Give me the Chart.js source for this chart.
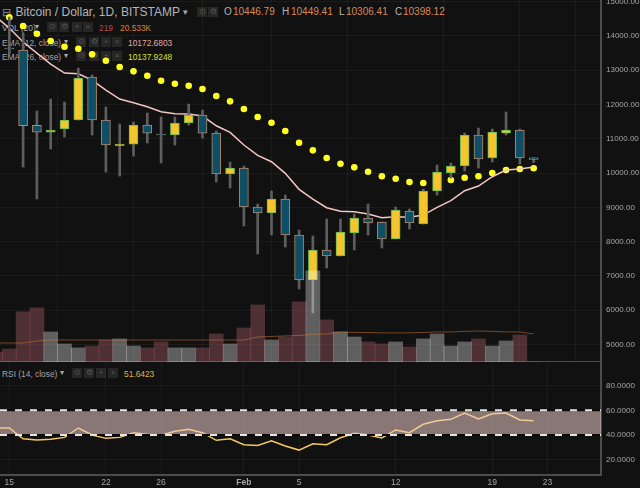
<!DOCTYPE html>
<html>
<head>
<meta charset="utf-8">
<script src="https://cdn.jsdelivr.net/npm/chart.js@4/dist/chart.umd.min.js"></script>
<style>
  html, body { margin: 0; padding: 0; background: #111; overflow: hidden; }
  #wrap { position: relative; width: 640px; height: 488px; font-family: "Liberation Sans", sans-serif; }
  canvas { position: absolute; left: 0; z-index: 2; }
  #priceChart { top: 0; }
  #rsiChart { top: 362px; }
  .t { position: absolute; z-index: 1; white-space: nowrap; font-size: 8.4px; line-height: 12px; color: #a4a4a4; }
  .b { position: absolute; z-index: 1; width: 10px; height: 10px; background: #262626; color: #565656; font-size: 8px; line-height: 10px; text-align: center; }
</style>
</head>
<body>
<div id="wrap">
  <canvas id="priceChart" width="640" height="362"></canvas>
  <canvas id="rsiChart" width="640" height="126"></canvas>
</div>
<script>
// days are counted from Jan 15, -1 is the sliver cut off at the left edge
var days = [-1,0,1,2,3,4,5,6,7,8,9,10,11,12,13,14,15,16,17,18,19,20,21,22,23,24,25,26,27,28,29,30,31,32,33,34,35,36,37,38];
var tickDays = [0,7,11,17,21,28,35,39];
var tickLabels = ['15','22','26','Feb','5','12','19','23'];
var priceTicks = [5000,6000,7000,8000,9000,10000,11000,12000,13000,14000,15000];
var rsiTicks = [20,40,60,80];
var rsiLevels = [60,40];

var opens  = [null,13648,13589,11392,11196,11284,11547,12801,11547,10802,10846,11401,11138,11109,11459,11692,11167,9971,10146,9008,8833,9241,8191,6878,7753,7578,8249,8687,8570,8074,8891,8512,9475,10000,10204,11109,10438,11167,11255,10446.79];
var highs  = [null,14552,14085,11809,12159,12072,13064,12860,11926,11430,11488,11751,11634,11634,12013,11838,11226,10321,10204,9095,9475,9358,8337,8162,8658,8658,8804,9095,8570,9008,8950,9533,10233,10292,11167,11313,11284,11780,11284,10449.41];
var lows   = [null,13472,10175,9241,10700,11050,11547,11109,10029,9912,10496,10875,10292,10817,11401,11021,9737,9562,8453,7636,8191,7841,6615,5915,7228,7578,7753,8191,7811,8074,8366,8512,9358,9854,10058,10146,10321,11109,10263,10306.41];
var closes = [null,13620,11380,11196,11255,11547,12772,11547,10817,10846,11401,11167,11109,11459,11692,11167,9971,10146,9008,8833,9241,8191,6878,7753,7578,8278,8687,8541,8074,8920,8541,9475,10029,10204,11109,10409,11196,11255,10438,10398.12];

var ema12 = [14570,14231,13823,13502,13181,12918,12898,12714,12422,12159,12051,11935,11789,11730,11722,11663,11380,11188,10817,10516,10330,9991,9524,9241,8987,8882,8871,8804,8696,8725,8707,8774,8999,9192,9484,9621,9892,10088,10117,10172.68];
var ema26 = [null,14543,14290,14065,13852,13685,13627,13464,13277,13093,12968,12839,12693,12606,12547,12451,12247,12092,11868,11634,11468,11226,10884,10662,10438,10271,10166,10038,9904,9834,9737,9708,9796,9796,9863,9904,10000,10088,10117,10137.92];

// volume in thousands
var volumes = [7.3,9.5,36.7,39.6,22,13.2,10.3,11.7,16.1,16.9,11.7,10.3,14.7,10.3,10.3,10.3,20.5,13.2,24.9,41.8,16.1,18.3,44,66.7,30.8,22,18.3,14.7,13.2,14.7,11,16.9,20.5,11.7,14.7,16.9,11.7,15.4,19.8,0.219];
var volumeUp = [0,0,0,0,1,1,1,0,0,1,1,0,0,1,1,0,0,1,0,0,1,0,0,1,0,1,1,0,0,1,0,1,1,1,1,0,1,1,0,0];
var volumeMa = [13.9,13.9,13.9,15.4,16.1,16.1,16.1,16.1,16.1,16.1,16.1,16.1,16.1,16.1,16.1,16.1,16.1,16.1,16.1,18.3,18.7,19.1,19.4,20.2,20.5,22,21.6,21.6,21.3,21.3,21.3,21.6,22,22,22.4,22.7,22.4,22,22,20.53];

var rsi = [45.7,45.7,37,35.9,36.5,38.1,45.7,40,37.3,38.1,41.9,40.6,39.8,43,44.6,41.9,35.7,37,32.1,31.6,35.4,31.1,27.8,32.9,32.1,37.8,41.4,40,37.6,44.1,41.9,48.7,51.6,52.7,57.8,53,57.3,57.8,52.2,51.64];

var xMin = -0.674, xMax = 42.88;
var gridColor = 'rgba(255,255,255,0.045)';
var axisColor = '#4c4c4c';
var tickColor = '#a6a6a6';

function pts(values) {
  return values.map(function (v, i) { return { x: days[i], y: v }; }).filter(function (p) { return p.y !== null; });
}
function range(a, b) {
  return a.map(function (v, i) { return { x: days[i], y: v === null ? null : [v, b[i]] }; }).filter(function (p) { return p.y !== null; });
}
var realDays = closes.map(function (v, i) { return i; }).filter(function (i) { return closes[i] !== null; });
var isUp = realDays.map(function (i) { return closes[i] >= opens[i]; });

function xScale(showLabels) {
  return {
    type: 'linear', min: xMin, max: xMax, offset: false,
    grid: { color: gridColor, drawTicks: false },
    border: { display: true, color: axisColor, width: 2 },
    ticks: {
      display: showLabels, color: tickColor, padding: 3, maxRotation: 0, autoSkip: false,
      font: function (c) { return { family: 'Liberation Sans', size: 8.5, weight: c.tick && c.tick.value === 17 ? 'bold' : 'normal' }; },
      callback: function (v) { return tickLabels[tickDays.indexOf(v)]; }
    },
    afterBuildTicks: function (s) { s.ticks = tickDays.map(function (d) { return { value: d }; }); },
    afterFit: function (s) { s.height = showLabels ? 13 : 0; s.paddingLeft = 0; s.paddingRight = 0; }
  };
}
function yScale(min, max, ticks, decimals) {
  return {
    position: 'right', min: min, max: max,
    grid: { color: gridColor, drawTicks: false },
    border: { display: true, color: axisColor, width: 2 },
    ticks: {
      color: tickColor, padding: 5, autoSkip: false,
      font: { family: 'Liberation Sans', size: 8 },
      callback: function (v) { return v.toFixed(decimals); }
    },
    afterBuildTicks: function (s) { s.ticks = ticks.map(function (v) { return { value: v }; }); },
    afterFit: function (s) { s.width = 39; s.paddingTop = 0; s.paddingBottom = 0; }
  };
}
var baseOptions = {
  responsive: false, animation: false, events: [],
  layout: { padding: 0, autoPadding: false },
  plugins: { legend: { display: false }, tooltip: { enabled: false } }
};

new Chart(document.getElementById('priceChart'), {
  type: 'bar',
  data: {
    datasets: [
      { type: 'line', order: 0, yAxisID: 'yVol', data: pts(volumeMa), borderColor: 'rgba(215,125,60,0.5)', borderWidth: 1, pointRadius: 0, tension: 0 },
      { order: 1, yAxisID: 'yVol', grouped: false, barThickness: 14, data: pts(volumes),
        backgroundColor: volumeUp.map(function (u) { return u ? 'rgba(255,255,255,0.33)' : 'rgba(202,108,120,0.33)'; }) },
      { order: 2, grouped: false, barThickness: 9, data: range(opens, closes), borderWidth: 1, borderSkipped: false,
        backgroundColor: isUp.map(function (u) { return u ? '#f4c52d' : '#0f4f66'; }),
        borderColor: isUp.map(function (u) { return u ? '#62b84e' : '#b48a6a'; }) },
      { order: 3, grouped: false, barThickness: 2, data: range(lows, highs), backgroundColor: '#5e5e5e' },
      { type: 'line', order: 4, data: pts(ema12), borderColor: '#f2c6c2', borderWidth: 1.5, pointRadius: 0, tension: 0 },
      { type: 'line', order: 5, data: pts(ema26), showLine: false, pointRadius: 3.3, pointBorderWidth: 0, pointBackgroundColor: '#ffff22' }
    ]
  },
  options: Object.assign({}, baseOptions, {
    scales: {
      x: xScale(false),
      y: yScale(4485, 15050, priceTicks, 2),
      yVol: { display: false, position: 'right', min: 0, max: 265, ticks: { display: false },
        afterFit: function (s) { s.width = 0; s.paddingTop = 0; s.paddingBottom = 0; } }
    }
  })
});

var rsiDatasets = [
  { order: 3, data: pts(rsi), borderColor: '#f6c85c', borderWidth: 1.5, pointRadius: 0, tension: 0 },
  { order: 2, data: [{ x: xMin, y: rsiLevels[0] }, { x: xMax, y: rsiLevels[0] }], fill: { value: rsiLevels[1] },
    backgroundColor: 'rgba(237,204,201,0.55)', borderWidth: 0, pointRadius: 0 }
];
rsiLevels.forEach(function (level) {
  var line = [{ x: xMin, y: level }, { x: xMax, y: level }];
  rsiDatasets.push({ order: 1, data: line, borderColor: '#0a0a0a', borderWidth: 2, pointRadius: 0 });
  rsiDatasets.push({ order: 0, data: line, borderColor: '#e8e4e2', borderWidth: 2, borderDash: [7, 8], pointRadius: 0 });
});

new Chart(document.getElementById('rsiChart'), {
  type: 'line',
  data: { datasets: rsiDatasets },
  options: Object.assign({}, baseOptions, {
    scales: {
      x: xScale(true),
      y: yScale(7.6, 99.2, rsiTicks, 4)
    }
  })
});

// header rows of the panes, kept under the canvases since the dots run over them
var wrap = document.getElementById('wrap');
function text(str, x, y, color, size) {
  var el = document.createElement('div');
  el.className = 't';
  el.textContent = str;
  el.style.left = x + 'px';
  el.style.top = (y - 6) + 'px';
  if (color) el.style.color = color;
  if (size) el.style.fontSize = size + 'px';
  wrap.appendChild(el);
}
function buttons(xs, y) {
  var glyphs = ['\u2299', '\u2699', '+', '\u00d7'];
  xs.forEach(function (x, i) {
    var el = document.createElement('div');
    el.className = 'b';
    el.textContent = glyphs[i];
    el.style.left = x + 'px';
    el.style.top = (y - 5) + 'px';
    wrap.appendChild(el);
  });
}
var orange = '#d98a55';
text('\u229f', 2, 12, '#8a8a8a', 11);
text('Bitcoin / Dollar, 1D, BITSTAMP', 15.5, 12, '#b4b4b4', 12);
text('\u25be', 183, 12, '#aaa', 9);
buttons([197, 208], 12);
text('O', 224, 12, '#b4b4b4', 10);
text('10446.79', 233, 12, orange, 10);
text('H', 282, 12, '#b4b4b4', 10);
text('10449.41', 291, 12, orange, 10);
text('L', 339, 12, '#b4b4b4', 10);
text('10306.41', 346, 12, orange, 10);
text('C', 395, 12, '#b4b4b4', 10);
text('10398.12', 403, 12, orange, 10);

text('VOL (20)', 2, 28);
text('\u25be', 35, 27, '#aaa', 8);
buttons([47, 59, 72, 83], 27);
text('219', 99, 28, '#b5505a');
text('20.533K', 120, 28, '#d98040');

text('EMA (12, close)', 2, 43);
text('\u25be', 64, 42, '#aaa', 8);
buttons([76, 89, 101, 112], 42);
text('10172.6803', 128, 43, '#e0a8a8');

text('EMA (26, close)', 2, 57);
text('\u25be', 64, 56, '#aaa', 8);
buttons([76, 89, 101, 112], 56);
text('10137.9248', 128, 57, '#d8e020');

text('RSI (14, close)', 2, 374);
text('\u25be', 60, 373, '#aaa', 8);
buttons([72, 84, 96, 108], 373);
text('51.6423', 124, 374, '#e0b040');
</script>
</body>
</html>
